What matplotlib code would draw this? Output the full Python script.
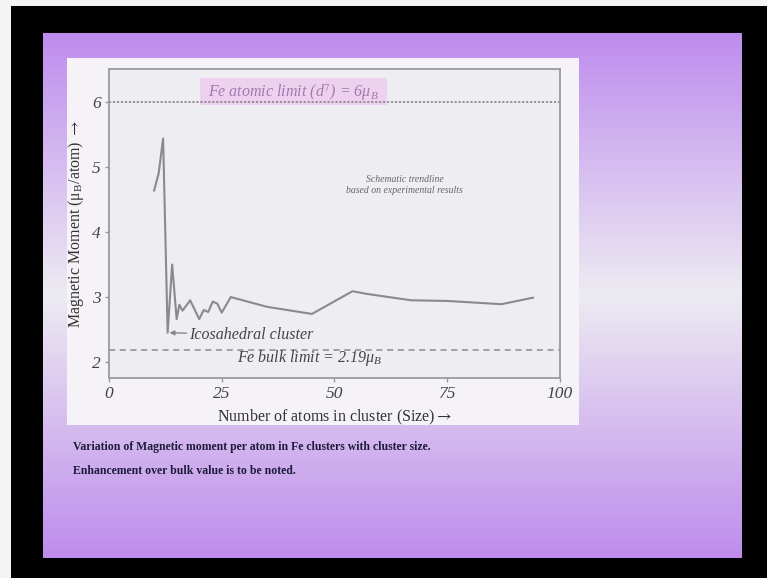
import numpy as np
import matplotlib
matplotlib.use("Agg")
import matplotlib.pyplot as plt
from matplotlib.patches import Rectangle

plt.rcParams["mathtext.fontset"] = "stix"

# ---- data ----
cluster_size = [10, 11, 12, 13, 14, 15, 15.6, 16.3, 18, 20, 21, 22, 23, 24, 25, 27,
                35, 45, 54, 57, 67, 75, 87, 94]
moment = [4.64, 4.90, 5.44, 2.45, 3.50, 2.66, 2.88, 2.79, 2.95, 2.66, 2.80, 2.77,
          2.93, 2.90, 2.76, 3.00, 2.85, 2.74, 3.09, 3.05, 2.95, 2.94, 2.89, 2.99]
atomic_limit = 6.0
bulk_limit = 2.19
x_ticks = [0, 25, 50, 75, 100]
y_ticks = [2, 3, 4, 5, 6]

W, H = 767, 578
fig = plt.figure(figsize=(W / 100, H / 100), dpi=100, facecolor="black")

def fx(px):
    return px / W

def fy(py):
    return 1 - py / H

# thin light strips at the left/top edge
fig.patches.append(Rectangle((0, 0), fx(11), 1, transform=fig.transFigure,
                             facecolor="#f4f4f4", edgecolor="none", zorder=0))
fig.patches.append(Rectangle((0, fy(6)), 1, 1 - fy(6), transform=fig.transFigure,
                             facecolor="#f4f4f4", edgecolor="none", zorder=0))

# slide gradient background
sl, sr, st, sb = 43, 742, 33, 558
bg = fig.add_axes([fx(sl), fy(sb), fx(sr - sl), (sb - st) / H])
bg.set_axis_off()
n = 400
t = np.linspace(0, 1, n)
top = np.array([190, 140, 238]) / 255
mid = np.array([237, 235, 242]) / 255
bot = np.array([190, 140, 236]) / 255
midpos = (295 - st) / (sb - st)
cols = np.zeros((n, 1, 3))
for i, v in enumerate(t):
    if v < midpos:
        a = v / midpos
        cols[i, 0] = top + (mid - top) * a
    else:
        a = (v - midpos) / (1 - midpos)
        cols[i, 0] = mid + (bot - mid) * a
bg.imshow(cols, aspect="auto", extent=[0, 1, 1, 0])
bg.set_xlim(0, 1)
bg.set_ylim(1, 0)

# white panel behind the chart
pl, pr, pt, pb = 67, 579, 58, 425
fig.patches.append(Rectangle((fx(pl), fy(pb)), fx(pr - pl), (pb - pt) / H,
                             transform=fig.transFigure, facecolor="#f6f3f8",
                             edgecolor="none", zorder=2))

# caption text
cap_kw = dict(family="Liberation Serif", fontweight="bold", fontsize=8.5,
              color="#1c1c3a", ha="left", va="center")
fig.text(fx(73), fy(447), "Variation of Magnetic moment per atom in Fe clusters with cluster size.", **cap_kw)
fig.text(fx(73), fy(471), "Enhancement over bulk value is to be noted.", **cap_kw)

# main axes
al, ar, at, ab = 109, 560, 69, 378
ax = fig.add_axes([fx(al), fy(ab), fx(ar - al), (ab - at) / H])
ax.set_zorder(3)
ax.set_facecolor("#eeedf1")
ax.set_xlim(0, 100)
ax.set_ylim(1.754, 6.51)

ax.plot(cluster_size, moment, color="#8a8a8a", lw=1.5, solid_joinstyle="round")
ax.axhline(atomic_limit, color="#8c8c8c", lw=1.3, ls=(0, (1.2, 1.0)))
ax.axhline(bulk_limit, color="#8c8c8c", lw=1.1, ls=(0, (4, 3)))

# pink highlight box and atomic-limit label
ax.add_patch(Rectangle((20.2, 5.95), 41.4, 0.42, facecolor="#efcdef",
                       edgecolor="none", alpha=0.85, zorder=1.5))
ax.text(40.9, 6.15, r"Fe atomic limit (d$^7$) = 6$\mathregular{\mu_B}$",
        family="Liberation Serif", style="italic", fontsize=11.5,
        color="#a07cae", ha="center", va="center")

ax.text(44.5, 2.06, r"Fe bulk limit = 2.19$\mathregular{\mu_B}$",
        family="Liberation Serif", style="italic", fontsize=11.5,
        color="#444444", ha="center", va="center")

ax.annotate("Icosahedral cluster", xy=(13.4, 2.45), xytext=(17.8, 2.42),
            family="Liberation Serif", style="italic", fontsize=11.5,
            color="#444444", ha="left", va="center",
            arrowprops=dict(arrowstyle="-|>", color="#888888", lw=1.0,
                            mutation_scale=7, shrinkA=0, shrinkB=0))

ax.text(65.5, 4.72, "Schematic trendline\nbased on experimental results",
        family="Liberation Serif", style="italic", fontsize=7,
        color="#666666", ha="center", va="center", linespacing=1.3)

ax.set_xticks(x_ticks)
ax.set_yticks(y_ticks)
ax.set_xticklabels([str(v) for v in x_ticks], family="Liberation Serif",
                   style="italic", fontsize=12.5, color="#444444")
ax.set_yticklabels([str(v) for v in y_ticks], family="Liberation Serif",
                   style="italic", fontsize=12.5, color="#444444")
ax.tick_params(direction="out", length=3, width=1, color="#999999", pad=3)
for s in ax.spines.values():
    s.set_color("#9a9a9a")
    s.set_linewidth(1.3)

ax.set_xlabel(r"Number of atoms in cluster (Size)$\rightarrow$", family="Liberation Serif",
              fontsize=11.5, color="#333333", labelpad=4)
ax.set_ylabel(r"Magnetic Moment ($\mathregular{\mu_B}$/atom) $\rightarrow$",
              family="Liberation Serif", fontsize=11.5, color="#333333",
              labelpad=4)

fig.savefig("out.png", dpi=100, facecolor="black")
